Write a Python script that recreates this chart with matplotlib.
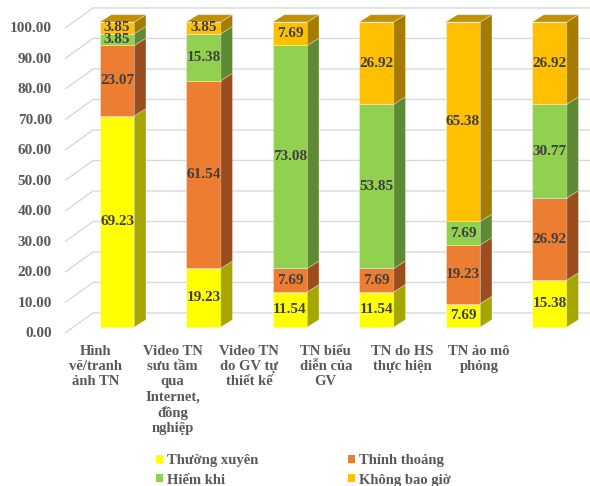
import numpy as np
import matplotlib.pyplot as plt
from matplotlib.patches import Polygon, Patch

categories = [
    "Hình\nvẽ/tranh\nảnh TN",
    "Video TN\nsưu tầm\nqua\nInternet,\nđồng\nnghiệp",
    "Video TN\ndo GV tự\nthiết kế",
    "TN biểu\ndiễn của\nGV",
    "TN do HS\nthực hiện",
    "TN ảo mô\nphỏng",
]
series = ["Thường xuyên", "Thỉnh thoảng", "Hiếm khi", "Không bao giờ"]
thuong_xuyen = [69.23, 19.23, 11.54, 11.54, 7.69, 15.38]
thinh_thoang = [23.07, 61.54, 7.69, 7.69, 19.23, 26.92]
hiem_khi = [3.85, 15.38, 73.08, 53.85, 7.69, 30.77]
khong_bao_gio = [3.85, 3.85, 7.69, 26.92, 65.38, 26.92]
y_ticks = np.arange(0, 101, 10)

front_colors = ["#FFFF00", "#ED7D31", "#92D050", "#FFC000"]
side_colors = ["#A6A600", "#9C4D1D", "#5E8A33", "#A67C00"]
top_colors = ["#BDBD00", "#B35A24", "#6E9E3C", "#C09000"]

serif = ["Liberation Serif", "DejaVu Serif"]
grey = "#595959"

# pseudo-3D geometry (x in category units, y in value units)
W = 0.4           # bar width
DX, DY = 0.135, 2.4   # bar depth offset
WALL_X, WALL_DY = -0.277, 4.6   # back wall
EDGE_X, EDGE_DY = -0.601, -2.0  # front edge of side wall

fig = plt.figure(figsize=(5.9, 4.86), dpi=100)
ax = fig.add_axes([0, 0, 1, 1])
ax.set_xlim(-1.3526, 5.4682)
ax.set_ylim(-52.13, 107.21)
ax.axis("off")

x = np.arange(len(categories))
xmax = ax.get_xlim()[1]

# gridlines on the side wall and back wall
for t in y_ticks:
    ax.plot([EDGE_X, WALL_X, xmax], [t + EDGE_DY, t + WALL_DY, t + WALL_DY],
            color="#D9D9D9", lw=1.0, zorder=0, solid_capstyle="butt")
    ax.text(-0.751, t - 2.2, f"{t:.2f}", ha="right", va="center",
            fontsize=11, fontweight="bold", color=grey, family=serif)

bottom = np.zeros(len(categories))
data = [thuong_xuyen, thinh_thoang, hiem_khi, khong_bao_gio]
for k, vals in enumerate(data):
    vals = np.array(vals)
    ax.bar(x, vals, W, bottom=bottom, color=front_colors[k],
           edgecolor=(1, 1, 1, 0.35), lw=0.6, zorder=2)
    for i in range(len(x)):
        b, v = bottom[i], vals[i]
        xr = x[i] + W / 2
        side = Polygon([(xr, b), (xr + DX, b + DY), (xr + DX, b + v + DY), (xr, b + v)],
                       closed=True, facecolor=side_colors[k],
                       edgecolor=(1, 1, 1, 0.35), lw=0.6, zorder=2)
        ax.add_patch(side)
        ax.text(x[i], b + v / 2, f"{v:.2f}", ha="center", va="center",
                fontsize=11, fontweight="bold", color="#404040",
                family=serif, zorder=4)
    bottom = bottom + vals

# top faces
for i in range(len(x)):
    t = bottom[i]
    xl, xr = x[i] - W / 2, x[i] + W / 2
    top = Polygon([(xl, t), (xr, t), (xr + DX, t + DY), (xl + DX, t + DY)],
                  closed=True, facecolor=top_colors[-1],
                  edgecolor=(1, 1, 1, 0.35), lw=0.6, zorder=2)
    ax.add_patch(top)

# category labels
for i, lab in enumerate(categories):
    ax.text(-0.243 + i * 0.8855, -5.9, lab, ha="center", va="top",
            fontsize=10.5, fontweight="bold", color=grey, family=serif,
            linespacing=1.22)

order = [0, 2, 1, 3]
handles = [Patch(facecolor=front_colors[k]) for k in order]
labels = [series[k] for k in order]
fig.legend(handles, labels, ncol=2, loc="upper left",
           bbox_to_anchor=(0.2644, 0.0658), frameon=False,
           borderpad=0, borderaxespad=0, handlelength=0.45, handleheight=0.45,
           handletextpad=0.3, columnspacing=6.15, labelspacing=0.45,
           prop={"family": serif, "weight": "bold", "size": 10.5},
           labelcolor=grey)

fig.savefig("out.png", dpi=100)
